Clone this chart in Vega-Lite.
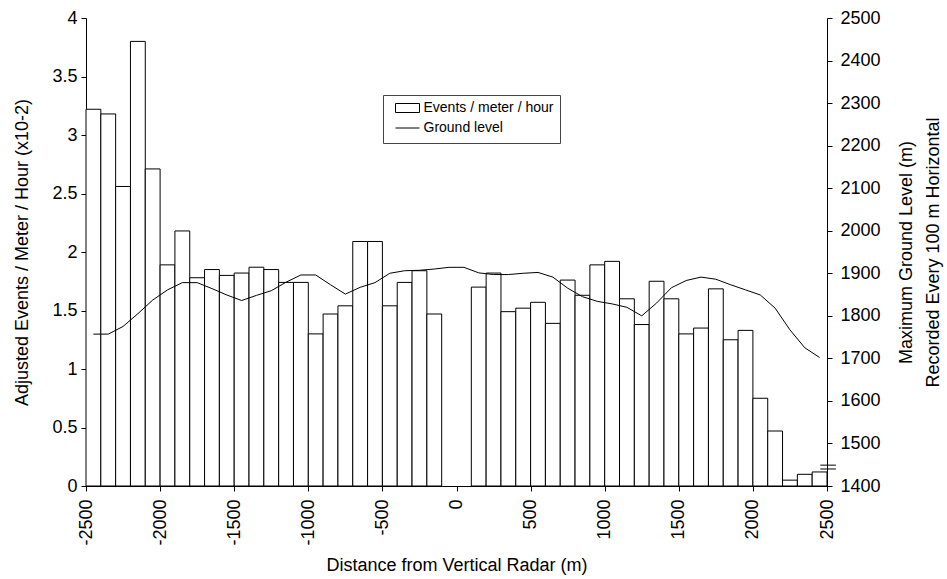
{
  "$schema": "https://vega.github.io/schema/vega-lite/v6.json",
  "width": 741,
  "height": 468,
  "autosize": {"type": "none"},
  "padding": {"left": 86, "top": 18, "right": 120, "bottom": 93},
  "background": "white",
  "config": {
    "view": {"stroke": null},
    "font": "Liberation Sans",
    "axis": {
      "labelFont": "Liberation Sans",
      "titleFont": "Liberation Sans",
      "labelFontSize": 18,
      "titleFontSize": 18,
      "titleFontWeight": "normal",
      "labelColor": "black",
      "titleColor": "black",
      "domainColor": "black",
      "tickColor": "black",
      "grid": false,
      "tickSize": 5,
      "labelPadding": 4
    },
    "legend": {
      "labelFont": "Liberation Sans",
      "labelFontSize": 14,
      "labelColor": "black"
    }
  },
  "layer": [
    {
      "data": {
        "values": [
          {"start": -2500, "end": -2400, "events": 3.22},
          {"start": -2400, "end": -2300, "events": 3.18},
          {"start": -2300, "end": -2200, "events": 2.56},
          {"start": -2200, "end": -2100, "events": 3.80},
          {"start": -2100, "end": -2000, "events": 2.71},
          {"start": -2000, "end": -1900, "events": 1.89},
          {"start": -1900, "end": -1800, "events": 2.18},
          {"start": -1800, "end": -1700, "events": 1.78},
          {"start": -1700, "end": -1600, "events": 1.85},
          {"start": -1600, "end": -1500, "events": 1.80},
          {"start": -1500, "end": -1400, "events": 1.82},
          {"start": -1400, "end": -1300, "events": 1.87},
          {"start": -1300, "end": -1200, "events": 1.85},
          {"start": -1200, "end": -1100, "events": 1.74},
          {"start": -1100, "end": -1000, "events": 1.74},
          {"start": -1000, "end": -900, "events": 1.30},
          {"start": -900, "end": -800, "events": 1.47},
          {"start": -800, "end": -700, "events": 1.54},
          {"start": -700, "end": -600, "events": 2.09},
          {"start": -600, "end": -500, "events": 2.09},
          {"start": -500, "end": -400, "events": 1.54},
          {"start": -400, "end": -300, "events": 1.74},
          {"start": -300, "end": -200, "events": 1.84},
          {"start": -200, "end": -100, "events": 1.47},
          {"start": 100, "end": 200, "events": 1.70},
          {"start": 200, "end": 300, "events": 1.82},
          {"start": 300, "end": 400, "events": 1.49},
          {"start": 400, "end": 500, "events": 1.52},
          {"start": 500, "end": 600, "events": 1.57},
          {"start": 600, "end": 700, "events": 1.39},
          {"start": 700, "end": 800, "events": 1.76},
          {"start": 800, "end": 900, "events": 1.63},
          {"start": 900, "end": 1000, "events": 1.89},
          {"start": 1000, "end": 1100, "events": 1.92},
          {"start": 1100, "end": 1200, "events": 1.60},
          {"start": 1200, "end": 1300, "events": 1.38},
          {"start": 1300, "end": 1400, "events": 1.75},
          {"start": 1400, "end": 1500, "events": 1.60},
          {"start": 1500, "end": 1600, "events": 1.30},
          {"start": 1600, "end": 1700, "events": 1.35},
          {"start": 1700, "end": 1800, "events": 1.685},
          {"start": 1800, "end": 1900, "events": 1.25},
          {"start": 1900, "end": 2000, "events": 1.33},
          {"start": 2000, "end": 2100, "events": 0.75},
          {"start": 2100, "end": 2200, "events": 0.47},
          {"start": 2200, "end": 2300, "events": 0.05},
          {"start": 2300, "end": 2400, "events": 0.10},
          {"start": 2400, "end": 2500, "events": 0.12}
        ]
      },
      "mark": {"type": "bar", "stroke": "black", "strokeWidth": 1},
      "encoding": {
        "x": {
          "field": "start",
          "type": "quantitative",
          "scale": {"domain": [-2500, 2500], "nice": false, "zero": false},
          "axis": {
            "title": "Distance from Vertical Radar (m)",
            "values": [-2500, -2000, -1500, -1000, -500, 0, 500, 1000, 1500, 2000, 2500],
            "labelAngle": -90,
            "labelExpr": "'' + datum.value",
            "labelPadding": 8,
            "titlePadding": 11
          }
        },
        "x2": {"field": "end"},
        "y": {
          "field": "events",
          "type": "quantitative",
          "scale": {"domain": [0, 4], "nice": false},
          "axis": {
            "title": "Adjusted Events / Meter / Hour (x10-2)",
            "values": [0, 0.5, 1, 1.5, 2, 2.5, 3, 3.5, 4],
            "format": "~g",
            "titlePadding": 20
          }
        },
        "y2": {"datum": 0},
        "fill": {
          "datum": "Events / meter / hour",
          "type": "nominal",
          "scale": {"domain": ["Events / meter / hour"], "range": ["white"]},
          "legend": {
            "title": " ",
            "titleOrient": "bottom",
            "titleFontSize": 14,
            "titlePadding": 8,
            "orient": "none",
            "legendX": 297,
            "legendY": 77,
            "padding": 6,
            "strokeColor": "#444444",
            "fillColor": "white",
            "symbolType": "M-2,-0.75H2V0.75H-2Z",
            "symbolSize": 144,
            "symbolOffset": 11.5,
            "symbolStrokeColor": "black",
            "symbolStrokeWidth": 1,
            "labelOffset": 9,
            "zindex": 1
          }
        }
      }
    },
    {
      "layer": [
        {
          "data": {
            "values": [
              {"pos": -2450, "ground": 1757},
              {"pos": -2350, "ground": 1757},
              {"pos": -2250, "ground": 1775},
              {"pos": -2150, "ground": 1805},
              {"pos": -2050, "ground": 1837},
              {"pos": -1950, "ground": 1861},
              {"pos": -1850, "ground": 1878},
              {"pos": -1750, "ground": 1878},
              {"pos": -1650, "ground": 1864},
              {"pos": -1550, "ground": 1849},
              {"pos": -1450, "ground": 1836},
              {"pos": -1350, "ground": 1848},
              {"pos": -1250, "ground": 1859},
              {"pos": -1150, "ground": 1879},
              {"pos": -1050, "ground": 1896},
              {"pos": -950, "ground": 1896},
              {"pos": -850, "ground": 1873},
              {"pos": -750, "ground": 1851},
              {"pos": -650, "ground": 1867},
              {"pos": -550, "ground": 1878},
              {"pos": -450, "ground": 1900},
              {"pos": -350, "ground": 1906},
              {"pos": -250, "ground": 1907},
              {"pos": -150, "ground": 1910},
              {"pos": -50, "ground": 1914},
              {"pos": 50, "ground": 1914},
              {"pos": 150, "ground": 1901},
              {"pos": 250, "ground": 1897},
              {"pos": 350, "ground": 1897},
              {"pos": 450, "ground": 1900},
              {"pos": 550, "ground": 1902},
              {"pos": 650, "ground": 1891},
              {"pos": 750, "ground": 1865},
              {"pos": 850, "ground": 1845},
              {"pos": 950, "ground": 1834},
              {"pos": 1050, "ground": 1828},
              {"pos": 1150, "ground": 1820},
              {"pos": 1250, "ground": 1800},
              {"pos": 1350, "ground": 1830},
              {"pos": 1450, "ground": 1866},
              {"pos": 1550, "ground": 1883},
              {"pos": 1650, "ground": 1891},
              {"pos": 1750, "ground": 1886},
              {"pos": 1850, "ground": 1873},
              {"pos": 1950, "ground": 1861},
              {"pos": 2050, "ground": 1849},
              {"pos": 2150, "ground": 1818},
              {"pos": 2250, "ground": 1767},
              {"pos": 2350, "ground": 1725},
              {"pos": 2450, "ground": 1702}
            ]
          },
          "mark": {"type": "line", "strokeWidth": 1},
          "encoding": {
            "x": {"field": "pos", "type": "quantitative"},
            "y": {
              "field": "ground",
              "type": "quantitative",
              "scale": {"domain": [1400, 2500], "nice": false, "zero": false},
              "axis": {
                "orient": "right",
                "title": ["Maximum Ground Level (m)", "Recorded Every 100 m Horizontal"],
                "values": [1400, 1500, 1600, 1700, 1800, 1900, 2000, 2100, 2200, 2300, 2400, 2500],
                "format": "d",
                "labelPadding": 8,
                "titleAngle": -90,
                "titleLineHeight": 27,
                "titlePadding": 8
              }
            },
            "stroke": {
              "datum": "Ground level",
              "type": "nominal",
              "scale": {"domain": ["Ground level"], "range": ["black"]},
              "legend": {
                "title": null,
                "orient": "none",
                "legendX": 303,
                "legendY": 103,
                "padding": 0,
                "symbolType": "M-2,0H2",
                "symbolSize": 144,
                "symbolOffset": 11.5,
                "symbolStrokeWidth": 1,
                "labelOffset": 9,
                "zindex": 2
              }
            }
          }
        },
        {
          "data": {
            "values": [
              {"from": 2455, "to": 2560, "level": 1449},
              {"from": 2455, "to": 2560, "level": 1440}
            ]
          },
          "mark": {"type": "rule", "color": "black", "strokeWidth": 1},
          "encoding": {
            "x": {"field": "from", "type": "quantitative"},
            "x2": {"field": "to"},
            "y": {"field": "level", "type": "quantitative"}
          }
        }
      ]
    }
  ],
  "resolve": {"scale": {"y": "independent"}}
}
